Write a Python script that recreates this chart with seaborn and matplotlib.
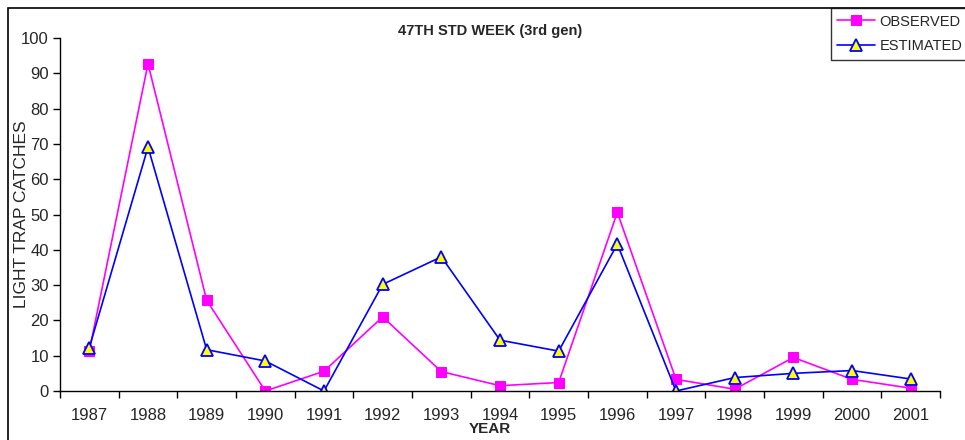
import pandas as pd
import seaborn as sns
import matplotlib.pyplot as plt
from matplotlib.patches import Rectangle

# Light trap catches, 47th standard week (3rd gen)
years = ['1987', '1988', '1989', '1990', '1991', '1992', '1993', '1994',
         '1995', '1996', '1997', '1998', '1999', '2000', '2001']
observed = [11.4, 92.7, 25.7, 0.0, 5.6, 21.0, 5.5, 1.5,
            2.4, 50.6, 3.3, 0.5, 9.5, 3.3, 0.8]
estimated = [12.3, 69.1, 11.7, 8.5, 0.0, 30.2, 38.0, 14.4,
             11.3, 41.6, 0.0, 3.8, 5.0, 5.8, 3.4]

dtf = pd.DataFrame({'pos': range(len(years)), 'Year': years,
                    'OBSERVED': observed, 'ESTIMATED': estimated})

sns.set_style('white')
plt.rcParams['font.family'] = ['Liberation Sans', 'DejaVu Sans']

fig = plt.figure(figsize=(9.65, 4.4), dpi=100)
ax = fig.add_axes([60 / 965, 49 / 440, 880 / 965, 353 / 440])

sns.lineplot(data=dtf, x='pos', y='OBSERVED', ax=ax, color='#ff00ff',
             marker='s', markersize=7, markeredgecolor='#ff00ff',
             markerfacecolor='#ff00ff', linewidth=1.2, label='OBSERVED')
sns.lineplot(data=dtf, x='pos', y='ESTIMATED', ax=ax, color='#0000ff',
             marker='^', markersize=8, markeredgecolor='#0000ff',
             markerfacecolor='#ffff00', markeredgewidth=1.3,
             linewidth=1.2, label='ESTIMATED')

ax.set_xlim(-0.5, len(years) - 0.5)
ax.set_ylim(0, 100)
ax.set_yticks(range(0, 101, 10))
ax.set_xticks(range(len(years)))
ax.set_xticklabels(years)
ax.set_xticks([i - 0.5 for i in range(len(years) + 1)], minor=True)
ax.tick_params(axis='x', which='major', length=0, pad=12, labelsize=12)
ax.tick_params(axis='x', which='minor', length=5, width=1, direction='out',
               color='black', bottom=True)
ax.tick_params(axis='y', length=5, width=1, direction='out', color='black',
               left=True, labelsize=12, pad=3)

for side in ['top', 'right']:
    ax.spines[side].set_visible(False)
for side in ['left', 'bottom']:
    ax.spines[side].set_color('black')
    ax.spines[side].set_linewidth(1)

ax.set_xlabel('YEAR', fontsize=11, fontweight='bold')
ax.xaxis.set_label_coords(0.489, -0.088)
ax.set_ylabel('LIGHT TRAP CATCHES', fontsize=12.5)
ax.yaxis.set_label_coords(-0.035, 0.5)
ax.set_title('47TH STD WEEK (3rd gen)', fontsize=10.5, fontweight='bold',
             x=0.489, pad=2)

ax.get_legend().remove()
handles, labels = ax.get_legend_handles_labels()
leg = fig.legend(handles, labels, loc='upper right',
                 bbox_to_anchor=(1.004, 1 - 8 / 440), fontsize=10.5,
                 frameon=True, fancybox=False, borderaxespad=0,
                 handlelength=2.6, handletextpad=0.3, borderpad=0.45,
                 labelspacing=0.75)
leg.get_frame().set_edgecolor('black')
leg.get_frame().set_linewidth(1)

# outer chart border
fig.add_artist(Rectangle((8 / 965, -0.1), 1.1, 1.1 - 8 / 440,
                         transform=fig.transFigure, fill=False,
                         edgecolor='black', linewidth=1.2))

fig.savefig('out.png', dpi=100)
